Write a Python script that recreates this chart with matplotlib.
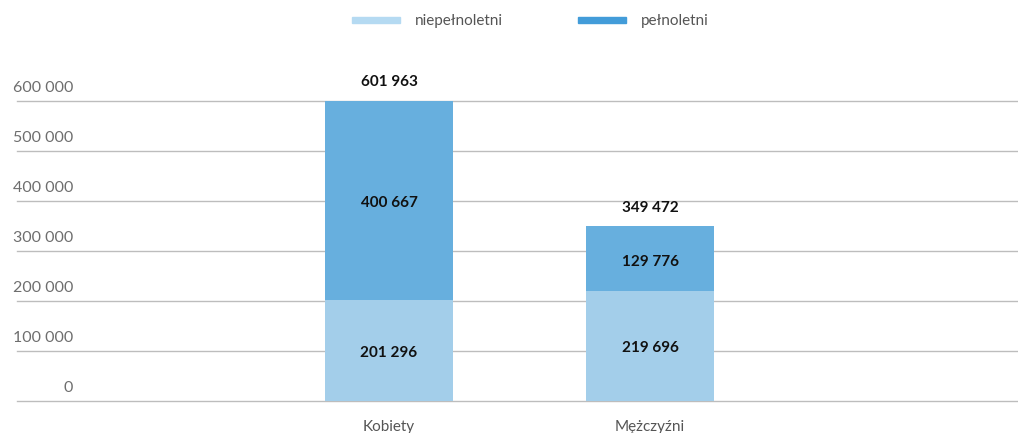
import matplotlib
matplotlib.use("Agg")
import matplotlib.pyplot as plt
from matplotlib.patches import Rectangle
from matplotlib.transforms import ScaledTranslation

categories = ["Kobiety", "Mężczyźni"]
niepelnoletni = [201296, 219696]
pelnoletni = [400667, 129776]
series_names = ["niepełnoletni", "pełnoletni"]
yticks = [0, 100000, 200000, 300000, 400000, 500000, 600000]


def fmt(v):
    return f"{v:,}".replace(",", " ")


plt.rcParams['font.family'] = ['Lato', 'DejaVu Sans']

W, H = 1018, 433
fig = plt.figure(figsize=(W / 100, H / 100), dpi=100)
ax_left, ax_right, ax_bottom, ax_top = 17, 1018, 401, 101
ax = fig.add_axes([ax_left / W, 1 - ax_bottom / H, (ax_right - ax_left) / W, (ax_bottom - ax_top) / H])

light = "#A3CEEA"
dark = "#67AFDE"
x = [0, 1]
bw = 128 / 261
ax.bar(x, niepelnoletni, width=bw, color=light, zorder=2)
ax.bar(x, pelnoletni, width=bw, bottom=niepelnoletni, color=dark, zorder=2)

px_per_unit = 261
ax.set_xlim((ax_left - 389) / px_per_unit, (ax_right - 389) / px_per_unit)
ax.set_ylim(0, 600000)

ax.set_yticks(yticks)
ax.set_yticklabels([fmt(v) for v in yticks])
ax.grid(axis='y', color="#BDBDBD", linewidth=1, zorder=0)
for gl in ax.get_ygridlines():
    gl.set_clip_on(False)
ax.tick_params(axis='y', length=0, pad=-(56 * 72 / 100), labelsize=11.5, labelcolor="#6E6E6E")
for lab in ax.get_yticklabels():
    lab.set_transform(lab.get_transform() + ScaledTranslation(0, 14 / 100, fig.dpi_scale_trans))

ax.set_xticks(x)
ax.set_xticklabels(categories)
ax.tick_params(axis='x', length=0, pad=14, labelsize=11, labelcolor="#555555")

for s in ax.spines.values():
    s.set_visible(False)

for i in x:
    a, b = niepelnoletni[i], pelnoletni[i]
    ax.text(i, a / 2, fmt(a), ha='center', va='center', fontsize=11, fontweight='bold', color="#111111",
            zorder=3, transform=ax.transData + ScaledTranslation(0, -2 / 100, fig.dpi_scale_trans))
    ax.text(i, a + b / 2, fmt(b), ha='center', va='center', fontsize=11, fontweight='bold', color="#111111",
            zorder=3, transform=ax.transData + ScaledTranslation(0, -3 / 100, fig.dpi_scale_trans))
    ax.text(i, a + b, fmt(a + b), ha='center', va='bottom', fontsize=11, fontweight='bold', color="#111111",
            transform=ax.transData + ScaledTranslation(0, 11 / 100, fig.dpi_scale_trans))

# legend
leg_colors = ["#B5DAF2", "#429CD9"]
leg_x = [352, 578]
for name, c, lx in zip(series_names, leg_colors, leg_x):
    fig.add_artist(Rectangle((lx / W, 1 - 23 / H), 48 / W, 6 / H, transform=fig.transFigure, color=c))
    fig.text((lx + 63) / W, 1 - 21 / H, name, ha='left', va='center', fontsize=11, color="#555555")

fig.savefig("out.png", dpi=100)
